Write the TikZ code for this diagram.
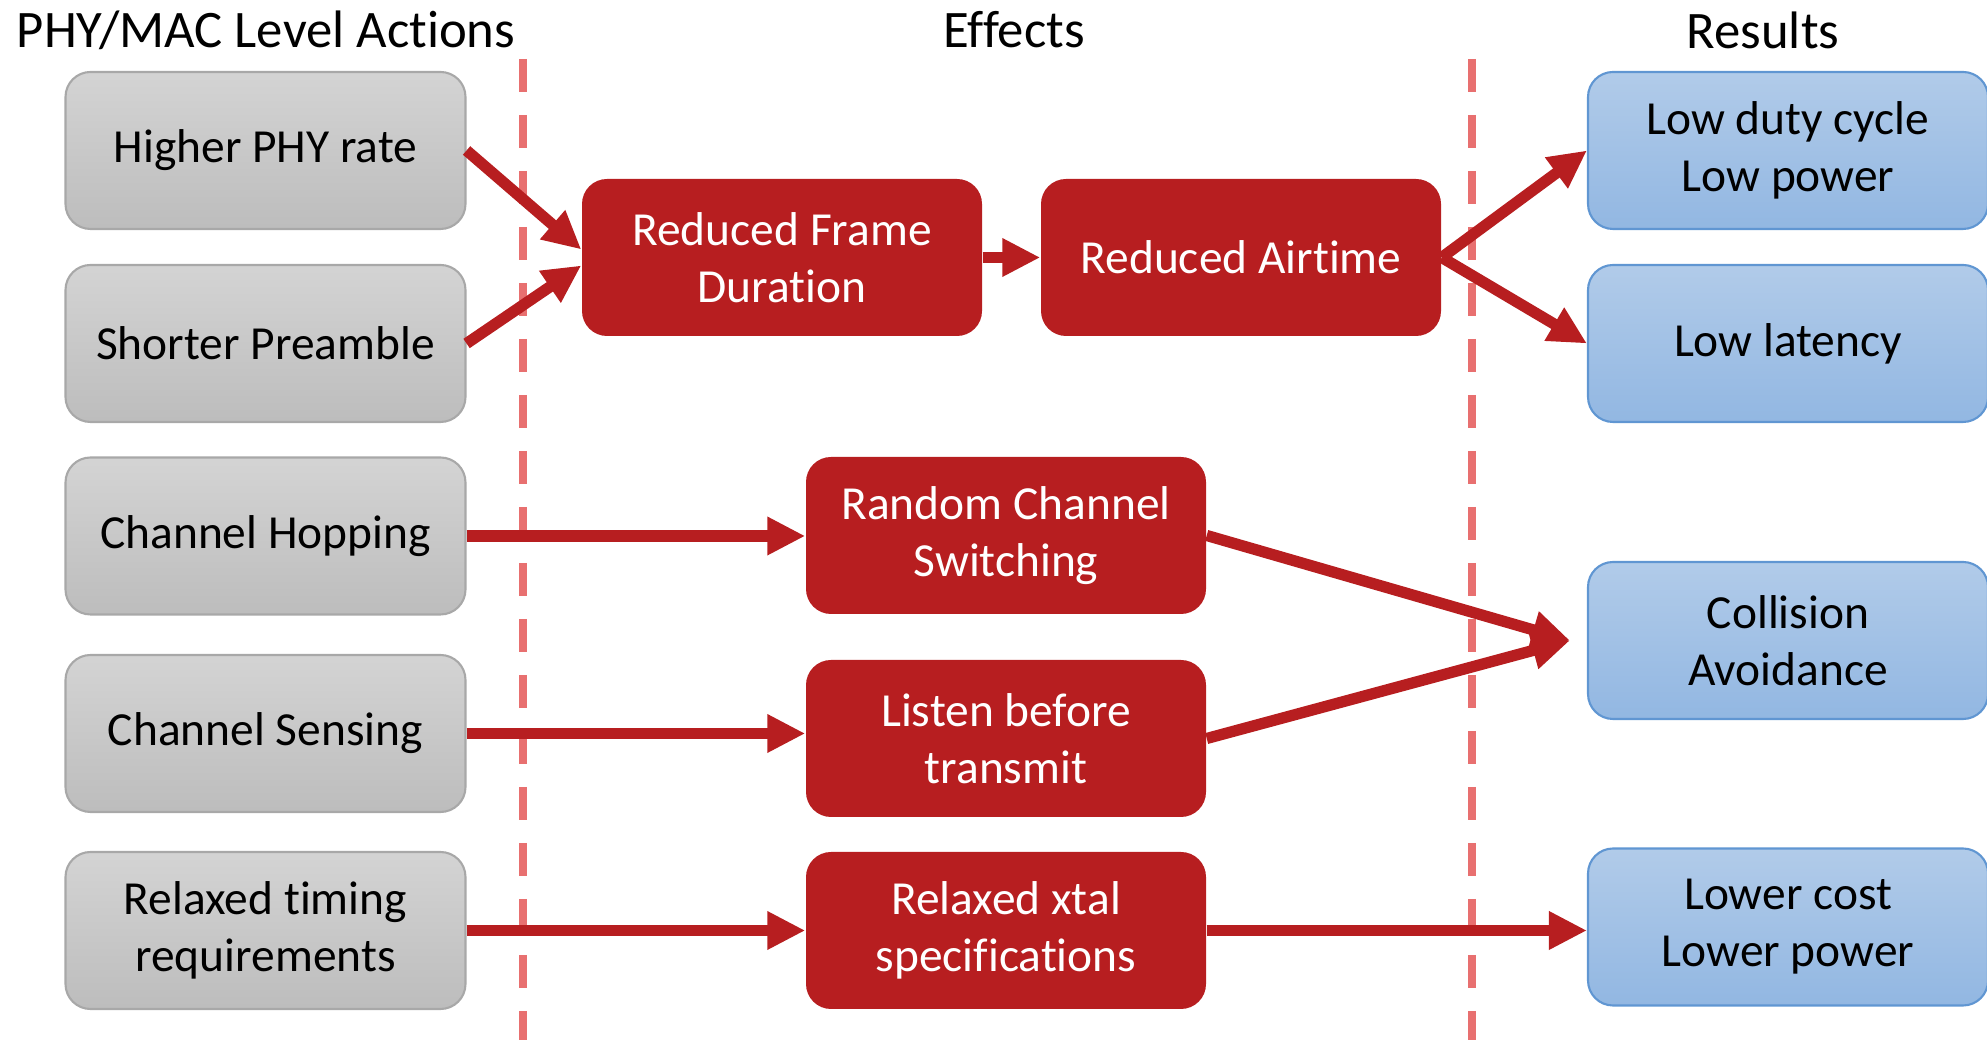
\documentclass[tikz,border=0pt]{standalone}
\usepackage{fontspec}
\setmainfont{Carlito}[Ligatures=NoCommon]
\usepackage{tikz}
\usetikzlibrary{positioning,arrows.meta}

\definecolor{boxred}{RGB}{183,30,32}
\definecolor{dashred}{RGB}{232,112,112}
\definecolor{grayedge}{RGB}{168,168,168}
\definecolor{blueedge}{RGB}{96,150,210}

\tikzset{
  box/.style={rectangle,rounded corners=0.25cm,minimum width=4cm,minimum height=1.57cm,
    inner sep=0pt,align=center,font=\fontsize{13.5}{16.2}\selectfont},
  action/.style={box,draw=grayedge,line width=0.6pt,top color=black!17,bottom color=black!26},
  effect/.style={box,fill=boxred,text=white},
  result/.style={box,draw=blueedge,line width=0.6pt,top color={rgb,255:red,177;green,203;blue,233},
    bottom color={rgb,255:red,146;green,183;blue,226}},
  head/.style={font=\fontsize{15}{18}\selectfont},
  link/.style={draw=boxred,line width=3.2pt,-{Triangle[length=0.38cm,width=0.36cm]}},
  border/.style={draw=dashred,line width=2.2pt,dash pattern=on 0.33cm off 0.23cm}
}

\begin{document}
\begin{tikzpicture}
\useasboundingbox (0,0) rectangle (19.87,10.40);

\node [head] (hact) at (2.66,10.10) {PHY/MAC Level Actions};
\node [head] (heff) at (10.14,10.10) {Effects};
\node [head] (hres) at (17.63,10.10) {Results};

\draw [border] (5.23,9.81) -- (5.23,0);
\draw [border] (14.72,9.81) -- (14.72,0);

% actions
\node [action] (phyrate) at (2.655,8.895) {Higher PHY rate};
\node [action] (preamble) at (2.655,6.965) {Shorter Preamble};
\node [action] (hopping) at (2.655,5.04) {Channel Hopping};
\node [action] (sensing) at (2.655,3.065) {Channel Sensing};
\node [action] (timing) at (2.655,1.095) {Relaxed timing\\requirements};

% effects
\node [effect] (frame) at (7.82,7.825) {Reduced Frame\\Duration};
\node [effect] (airtime) at (12.41,7.825) {Reduced Airtime};
\node [effect] (switching) at (10.06,5.045) {Random Channel\\Switching};
\node [effect] (lbt) at (10.06,3.015) {Listen before\\transmit};
\node [effect] (xtal) at (10.06,1.095) {Relaxed xtal\\specifications};

% results
\node [result] (duty) at (17.88,8.895) {Low duty cycle\\Low power};
\node [result] (latency) at (17.88,6.965) {Low latency};
\node [result] (collision) at (17.88,3.995) {Collision\\Avoidance};
\node [result] (cost) at (17.88,1.13) {Lower cost\\Lower power};

\coordinate (cmeet) at ([xshift=-0.17cm]collision.west);

\draw [link] (phyrate.east) -- ([yshift=0.08cm]frame.west);
\draw [link] (preamble.east) -- ([yshift=-0.08cm]frame.west);
\draw [link] (frame) -- (airtime);
\draw [link] (airtime.east) -- (duty.west);
\draw [link] (airtime.east) -- (latency.west);
\draw [link] (hopping) -- (hopping -| switching.west);
\draw [link] (sensing.east) -- (sensing.east -| lbt.west);
\draw [link] (timing) -- (xtal);
\draw [link] (switching.east) -- (cmeet);
\draw [link] (lbt.east) -- (cmeet);
\draw [link] (xtal) -- (xtal -| cost.west);
\end{tikzpicture}
\end{document}
